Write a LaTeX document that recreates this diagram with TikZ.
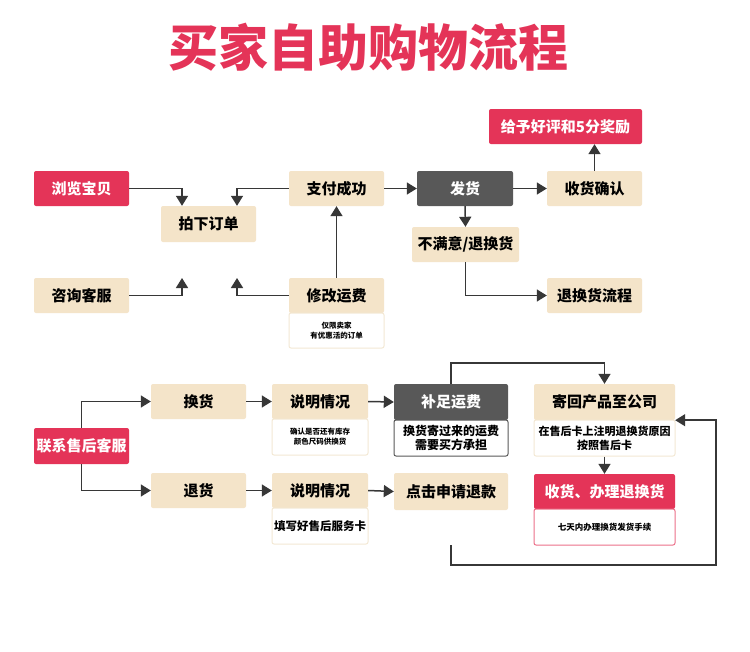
\documentclass[tikz,border=0pt]{standalone}
\usepackage{fontspec}
\setmainfont{Noto Sans CJK SC}
\usetikzlibrary{arrows.meta}
\definecolor{rd}{RGB}{228,52,88}
\definecolor{bg}{RGB}{244,228,201}
\definecolor{dk}{RGB}{88,88,88}
\definecolor{ln}{RGB}{55,55,55}
\definecolor{sb}{RGB}{243,232,212}
\newcommand\bx[7]{\node[#6, minimum width={(#4-#2)*1pt}, minimum height={(#5-#3)*1pt}] (#1) at ({(#2+#4)/2},{(#3+#5)/2}) {#7};}
\tikzset{
  base/.style={inner sep=0pt, rounded corners=2pt, align=center},
  beige/.style={base, fill=bg, text=black, font=\bfseries\fontsize{15}{18}\selectfont},
  red/.style={base, fill=rd, text=white, font=\bfseries\fontsize{15}{18}\selectfont},
  dark/.style={base, fill=dk, text=white, font=\bfseries\fontsize{15}{18}\selectfont},
  sub/.style={base, fill=white, draw=sb, line width=1pt},
  arr/.style={draw=ln, line width=1.5pt, -{Triangle[width=12pt,length=10pt]}},
  ln/.style={draw=ln, line width=1.5pt},
}
\begin{document}
\begin{tikzpicture}[x=1pt,y=-1pt]
\useasboundingbox (0,0) rectangle (750,651);
\fill[white] (0,0) rectangle (750,651);
\node[text=rd, font=\bfseries\fontsize{50}{58}\selectfont] (title) at (368,47) {买家自助购物流程};
% upper part
\bx{browse}{34}{171}{129}{206}{red}{浏览宝贝}
\bx{order}{161}{206}{256}{242}{beige}{拍下订单}
\bx{pay}{289}{171}{384}{206}{beige}{支付成功}
\bx{consult}{34}{278}{129}{313}{beige}{咨询客服}
\bx{modify}{289}{278}{384}{313}{beige}{修改运费}
\bx{modsub}{289}{313}{384}{348}{sub, font=\bfseries\fontsize{7.5}{10}\selectfont}{仅限卖家\\有优惠活的订单}
\bx{ship}{417}{171}{513}{206}{dark}{发货}
\bx{recv}{547}{171}{642}{206}{beige}{收货确认}
\bx{praise}{489}{109}{642}{144}{red}{给予好评和5分奖励}
\bx{unsat}{412}{227}{519}{262}{beige}{不满意/退换货}
\bx{retflow}{547}{278}{642}{313}{beige}{退换货流程}
\coordinate (c1) at (182,278);
\coordinate (c2) at (237,278);
\draw[arr] (browse.east) -| ([xshift=-26.5pt]order.north);
\draw[arr] (pay.west) -| ([xshift=28.5pt]order.north);
\draw[arr] (consult.east) -| (c1);
\draw[arr] (modify.west) -| (c2);
\draw[arr] (modify.north) -- (pay.south);
\draw[arr] (pay.east) -- (ship.west);
\draw[arr] (ship.east) -- (recv.west);
\draw[arr] (recv.north) -- (recv.north |- praise.south);
\draw[arr] (ship.south) -- (unsat.north);
\draw[arr] (unsat.south) |- (retflow.west);
% lower part
\bx{contact}{34}{428}{129}{464}{red}{联系售后客服}
\bx{exch}{151}{384}{246}{419}{beige}{换货}
\bx{refund}{151}{473}{246}{508}{beige}{退货}
\bx{desc1}{272}{384}{368}{419}{beige}{说明情况}
\bx{desc1sub}{272}{419}{368}{455}{sub, font=\bfseries\fontsize{7.5}{10}\selectfont}{确认是否还有库存\\颜色尺码供换货}
\bx{desc2}{272}{473}{368}{508}{beige}{说明情况}
\bx{desc2sub}{272}{508}{368}{544}{sub, font=\bfseries\fontsize{11.5}{14}\selectfont}{填写好售后服务卡}
\bx{fee}{394}{384}{508}{420}{dark}{补足运费}
\bx{feesub}{394}{420}{508}{456}{sub, draw=dk, font=\bfseries\fontsize{12}{14}\selectfont}{换货寄过来的运费\\需要买方承担}
\bx{apply}{394}{473}{508}{510}{beige}{点击申请退款}
\bx{applysub}{394}{510}{508}{545}{base}{}
\bx{sendback}{534}{384}{675}{420}{beige}{寄回产品至公司}
\bx{sendsub}{534}{420}{675}{456}{sub, font=\bfseries\fontsize{11}{14}\selectfont}{在售后卡上注明退换货原因\\按照售后卡}
\bx{recv2}{534}{474}{675}{509}{red}{收货、办理退换货}
\bx{recv2sub}{534}{509}{675}{545}{sub, draw=rd!70, font=\bfseries\fontsize{8.5}{10}\selectfont}{七天内办理换货发货手续}
\coordinate (loop) at (716,565);
\draw[arr] (contact.north) |- (exch.west);
\draw[arr] (contact.south) |- (refund.west);
\draw[arr] (exch.east) -- (desc1.west);
\draw[arr] (refund.east) -- (desc2.west);
\draw[arr] (desc1.east) -- (fee.west);
\draw[arr] (desc2.east) -- (apply.west);
\draw[arr] (fee.north) -- ++(0,-21) -| (sendback.north);
\draw[arr] (applysub.south) |- (loop) |- (sendback.south east);
\draw[arr] (sendsub.south) -- (recv2.north);
\end{tikzpicture}
\end{document}
